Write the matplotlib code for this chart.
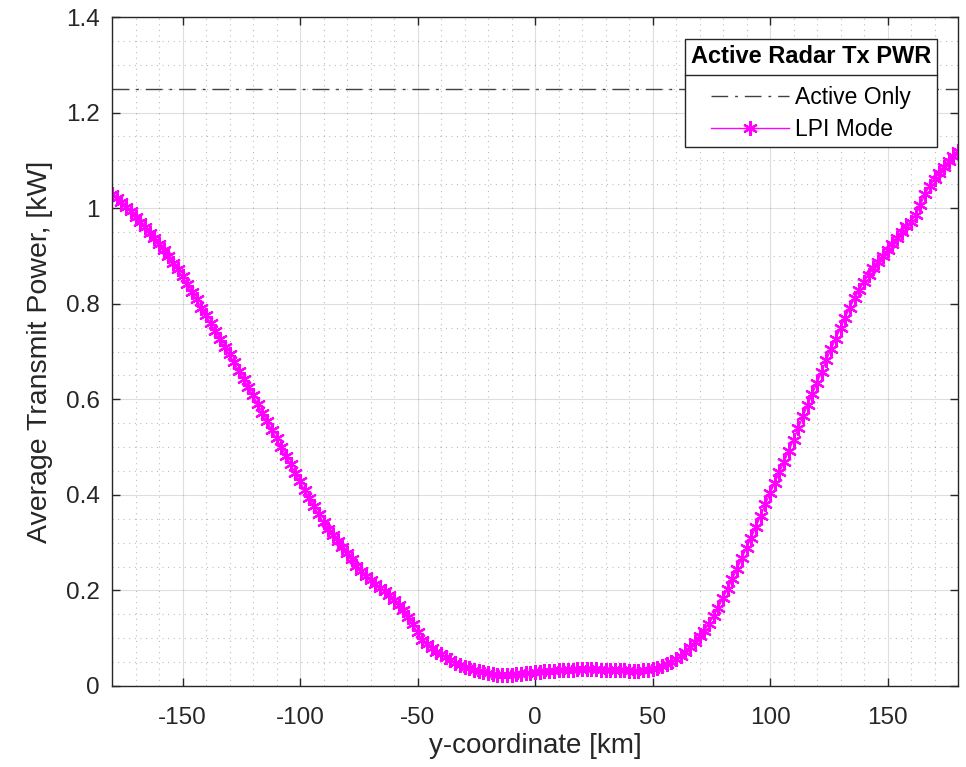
import numpy as np
import matplotlib
matplotlib.use("Agg")
import matplotlib.pyplot as plt
from matplotlib.ticker import MultipleLocator, FuncFormatter
from matplotlib.lines import Line2D

# y-coordinate grid [km], one sample every 2 km
y_coord = np.arange(-180, 181, 2)

# LPI mode average transmit power [kW]
lpi_power = [
    1.030, 1.022, 1.013, 1.003, 0.993, 0.982, 0.971, 0.960, 0.948, 0.937,
    0.925, 0.913, 0.900, 0.886, 0.872, 0.857, 0.842, 0.825, 0.809, 0.792,
    0.776, 0.759, 0.743, 0.727, 0.710, 0.694, 0.677, 0.660, 0.643, 0.625,
    0.608, 0.590, 0.572, 0.554, 0.536, 0.518, 0.500, 0.482, 0.464, 0.446,
    0.428, 0.410, 0.393, 0.376, 0.359, 0.343, 0.329, 0.316, 0.303, 0.291,
    0.278, 0.265, 0.251, 0.240, 0.230, 0.222, 0.214, 0.206, 0.198, 0.190,
    0.181, 0.170, 0.158, 0.144, 0.129, 0.113, 0.096, 0.087, 0.079, 0.072,
    0.067, 0.060, 0.054, 0.049, 0.044, 0.040, 0.037, 0.034, 0.031, 0.029,
    0.027, 0.025, 0.024, 0.023, 0.023, 0.024, 0.025, 0.026, 0.027, 0.028,
    0.029, 0.030, 0.031, 0.031, 0.032, 0.033, 0.033, 0.034, 0.034, 0.035,
    0.035, 0.035, 0.035, 0.035, 0.034, 0.034, 0.034, 0.033, 0.033, 0.033,
    0.032, 0.032, 0.032, 0.033, 0.034, 0.036, 0.038, 0.041, 0.045, 0.050,
    0.056, 0.063, 0.071, 0.081, 0.092, 0.104, 0.116, 0.130, 0.146, 0.164,
    0.184, 0.204, 0.224, 0.245, 0.267, 0.289, 0.310, 0.333, 0.356, 0.380,
    0.403, 0.425, 0.447, 0.469, 0.492, 0.515, 0.539, 0.564, 0.588, 0.611,
    0.634, 0.658, 0.682, 0.705, 0.727, 0.749, 0.771, 0.792, 0.811, 0.829,
    0.846, 0.860, 0.874, 0.887, 0.900, 0.912, 0.925, 0.937, 0.950, 0.962,
    0.972, 0.985, 1.006, 1.030, 1.046, 1.060, 1.074, 1.087, 1.099, 1.110,
    1.120,
]

# active-only transmit power [kW]
active_power = 1.25

x_ticks = [-150, -100, -50, 0, 50, 100, 150]
y_ticks = [0, 0.2, 0.4, 0.6, 0.8, 1.0, 1.2, 1.4]

plt.rcParams['font.family'] = ['Liberation Sans', 'DejaVu Sans']
txt = '#262626'

fig = plt.figure(figsize=(9.66, 7.67), dpi=100)
ax = fig.add_axes([112 / 966, 1 - 686 / 767, (958 - 112) / 966, (686 - 17) / 767])

ax.axhline(active_power, color='#404040', linestyle=(0, (12, 5, 2, 5)),
           linewidth=1.0, label='Active Only')
ax.plot(y_coord, lpi_power, color='#FF00FF', linewidth=1.0,
        marker=(6, 2, 0), markersize=10.5, markeredgewidth=1.6,
        label='LPI Mode')

ax.set_xlim(-180, 180)
ax.set_ylim(0, 1.4)
ax.set_xticks(x_ticks)
ax.set_yticks(y_ticks)
ax.xaxis.set_minor_locator(MultipleLocator(10))
ax.yaxis.set_minor_locator(MultipleLocator(0.05))
ax.yaxis.set_major_formatter(FuncFormatter(lambda v, p: f'{v:g}'))
ax.xaxis.set_major_formatter(FuncFormatter(lambda v, p: f'{v:g}'))

ax.grid(True, which='major', color='#262626', alpha=0.15, linewidth=0.8)
ax.grid(True, which='minor', color='#262626', alpha=0.3, linestyle=(0, (1, 4)),
        linewidth=0.8)
ax.set_axisbelow(True)

ax.tick_params(which='major', direction='in', length=6, width=1,
               top=True, right=True, labelsize=17.5, colors=txt)
ax.tick_params(axis='x', pad=15)
ax.tick_params(axis='y', pad=9)
ax.tick_params(which='minor', length=0)
for s in ax.spines.values():
    s.set_color(txt)
    s.set_linewidth(1.0)

ax.set_xlabel('y-coordinate [km]', fontsize=20, color=txt, labelpad=3)
ax.set_ylabel('Average Transmit Power, [kW]', fontsize=20.5, color=txt, labelpad=9)

leg = ax.legend(loc='upper right', bbox_to_anchor=(0.9748, 0.9671),
                borderaxespad=0, title='Active Radar Tx PWR', fontsize=16.5,
                handlelength=3.4, handletextpad=0.29, borderpad=0.25,
                labelspacing=0.42, fancybox=False, framealpha=1, edgecolor=txt)
leg.get_title().set_fontweight('bold')
leg.get_title().set_fontsize(17)
leg.get_title().set_color('black')
leg.get_frame().set_linewidth(1.0)
for t in leg.get_texts():
    t.set_color('black')
# wider gap between the title row and the entries
leg._legend_box.sep = 13

# separator line under the legend title
fig.canvas.draw()
fb = leg.get_frame().get_window_extent()
tb = leg.get_title().get_window_extent()
eb = leg.get_texts()[0].get_window_extent()
ysep = (tb.y0 + eb.y1) / 2 + 2
inv = fig.transFigure.inverted()
(x0, y0) = inv.transform((fb.x0, ysep))
(x1, _) = inv.transform((fb.x1, ysep))
fig.add_artist(Line2D([x0, x1], [y0, y0], color=txt, linewidth=1.0))

fig.savefig('out.png', dpi=100)
